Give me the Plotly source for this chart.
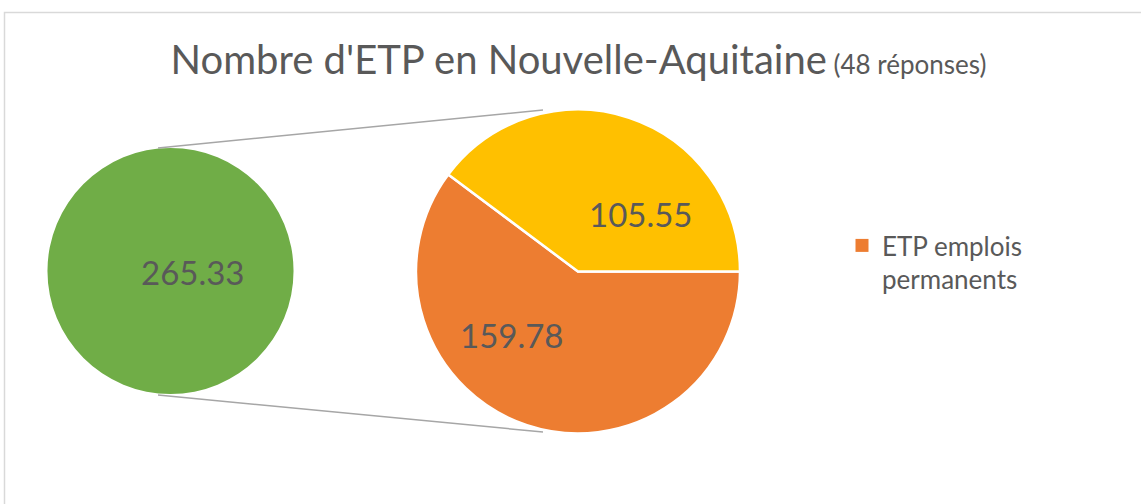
import plotly.graph_objects as go

# ---- data ----
total_label = "Total ETP"
total_value = 265.33
detail_labels = ["ETP emplois permanents", "Autres ETP"]
detail_values = [159.78, 105.55]
legend_label = "ETP emplois<br>permanents"
title_main = "Nombre d'ETP en Nouvelle-Aquitaine"
title_sub = "(48 réponses)"

# ---- styling / geometry (pixels) ----
W, H = 1141, 504
GREEN, YELLOW, ORANGE = "#70ad47", "#ffc000", "#ed7d31"
TXT = "#595959"
FONT = "Lato"

def px(x):
    return x / W

def py(y):
    return 1 - y / H

left_c, left_r = (170.5, 271.0), 123.0
right_c, right_r = (578.0, 271.5), 162.0

fig = go.Figure()

fig.add_trace(go.Pie(
    labels=[total_label], values=[total_value], sort=False,
    marker=dict(colors=[GREEN], line=dict(width=0)),
    textinfo="none", hoverinfo="label+value", showlegend=False,
    domain=dict(x=[px(left_c[0] - left_r), px(left_c[0] + left_r)],
                y=[py(left_c[1] + left_r), py(left_c[1] - left_r)]),
))

fig.add_trace(go.Pie(
    labels=detail_labels, values=detail_values, sort=False,
    direction="clockwise", rotation=90,
    marker=dict(colors=[ORANGE, YELLOW], line=dict(color="white", width=2.5)),
    textinfo="none", hoverinfo="label+value", showlegend=False,
    domain=dict(x=[px(right_c[0] - right_r), px(right_c[0] + right_r)],
                y=[py(right_c[1] + right_r), py(right_c[1] - right_r)]),
))

# legend entry (orange only, as in the source)
fig.add_trace(go.Scatter(
    x=[None], y=[None], mode="markers", name=legend_label,
    marker=dict(symbol="square", size=13, color=ORANGE),
    showlegend=True, hoverinfo="skip",
))

# value labels
label_pos = [(193, 271.5), (512, 335), (641, 213.5)]
label_vals = [total_value] + detail_values
annotations = []
for (lx, ly), v in zip(label_pos, label_vals):
    annotations.append(dict(
        x=px(lx), y=py(ly), xref="paper", yref="paper",
        text=f"{v:.2f}", showarrow=False, xanchor="center", yanchor="middle",
        font=dict(family=FONT, size=33, color=TXT),
    ))

# connector lines + chart border
shapes = [
    dict(type="line", xref="paper", yref="paper",
         x0=px(158), y0=py(148), x1=px(543), y1=py(110),
         line=dict(color="#a6a6a6", width=1.5)),
    dict(type="line", xref="paper", yref="paper",
         x0=px(158), y0=py(395), x1=px(543), y1=py(432),
         line=dict(color="#a6a6a6", width=1.5)),
    dict(type="path", xref="paper", yref="paper",
         path=f"M {px(4.5)},{py(510)} L {px(4.5)},{py(12.5)} L {px(1150)},{py(12.5)}",
         line=dict(color="#d9d9d9", width=1.5)),
]

fig.update_layout(
    width=W, height=H,
    margin=dict(l=0, r=0, t=0, b=0),
    paper_bgcolor="white", plot_bgcolor="white",
    font=dict(family=FONT, color=TXT),
    title=dict(
        text=f"{title_main}<span style='font-size:26px'> {title_sub}</span>",
        x=px(578.5), xanchor="center", xref="paper",
        y=py(60), yanchor="middle", yref="paper",
        font=dict(family=FONT, size=40, color=TXT),
    ),
    xaxis=dict(visible=False), yaxis=dict(visible=False),
    legend=dict(x=px(842), y=py(222), xanchor="left", yanchor="top",
                valign="top", font=dict(family=FONT, size=26, color=TXT),
                bgcolor="rgba(0,0,0,0)", itemsizing="trace"),
    annotations=annotations,
    shapes=shapes,
)

fig.write_html("out.html",
               config={"displayModeBar": False},
               post_script="document.body.style.margin='0';document.body.style.overflow='hidden';")
